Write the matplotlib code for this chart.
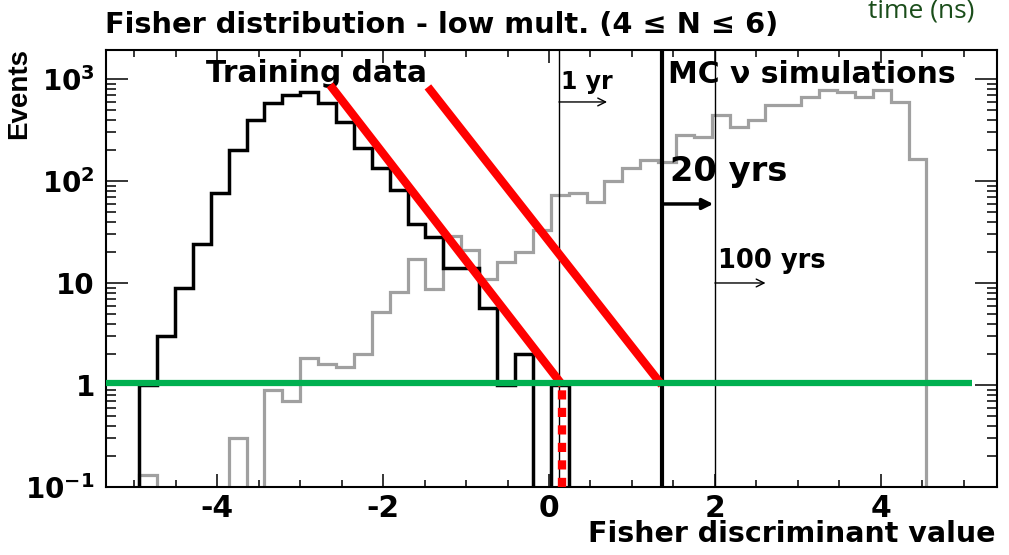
import numpy as np
import matplotlib
matplotlib.use("Agg")
import matplotlib.pyplot as plt
from matplotlib.ticker import MultipleLocator, LogLocator, FixedLocator, NullFormatter

plt.rcParams['font.family'] = ['DejaVu Sans']
plt.rcParams['font.weight'] = 'bold'
plt.rcParams['axes.unicode_minus'] = False
plt.rcParams['mathtext.fontset'] = 'custom'
plt.rcParams['mathtext.rm'] = 'DejaVu Sans:bold'
plt.rcParams['mathtext.it'] = 'DejaVu Sans:bold'
plt.rcParams['mathtext.bf'] = 'DejaVu Sans:bold'

# histogram binning (44 bins, same for both histograms)
x_first_edge = -4.94
x_last_edge = 4.55
n_bins = 44

# training data (black), events per bin; 0 = empty bin
training = [1, 3, 9, 24, 76, 200, 395, 580, 700, 750, 580, 378, 210, 134,
            81, 38, 28, 14, 14, 5.7, 1, 2, 0, 1,
            0, 0, 0, 0, 0, 0, 0, 0, 0, 0, 0, 0, 0, 0, 0, 0, 0, 0, 0, 0]

# MC neutrino simulations (grey)
mc_nu = [0.13, 0, 0, 0, 0, 0.3, 0, 0.9, 0.7, 1.85, 1.6, 1.5, 2.0, 5.2,
         8.1, 17, 8.8, 29, 21, 11, 16, 20, 33, 73, 77, 62, 101, 134,
         162, 155, 282, 268, 440, 342, 393, 560, 560, 660, 780, 750, 660,
         780, 590, 165]

# cut positions (Fisher value) for the exposure times
cut_1yr = 0.12
cut_20yr = 1.36
cut_100yr = 2.0
cut_data = 0.16

# red extrapolation lines: (x_start, x_end), (y_start, y_end)
red_line_1 = ([-2.64, 0.16], [873, 1.0])
red_line_2 = ([-1.46, 1.36], [836, 1.0])

y_ticks = [0.1, 1, 10, 100, 1000]
y_ticklabels = [r'$10^{-1}$', '1', '10', r'$10^{2}$', r'$10^{3}$']

fig = plt.figure(figsize=(10.09, 5.55), dpi=100)
ax = fig.add_axes([106 / 1009, 68 / 555, 891 / 1009, 437 / 555])

edges = np.linspace(x_first_edge, x_last_edge, n_bins + 1)
tiny = 1e-3
ax.stairs(np.where(np.array(mc_nu) > 0, mc_nu, tiny), edges, baseline=tiny,
          color='#a0a0a0', lw=2.3)
ax.stairs(np.where(np.array(training) > 0, training, tiny), edges, baseline=tiny,
          color='black', lw=2.5)

# cut lines
ax.axvline(cut_1yr, color='black', lw=1.0)
ax.axvline(cut_100yr, color='black', lw=1.0)
ax.axvline(cut_20yr, color='black', lw=3.0)

# red lines
ax.plot(*red_line_1, color='red', lw=6, solid_capstyle='butt', zorder=5)
ax.plot(*red_line_2, color='red', lw=6, solid_capstyle='butt', zorder=5)
ax.plot([cut_data, cut_data], [0.1, 1.0], color='red', lw=6,
        linestyle=(0, (1.1, 1.0)), zorder=5)

# green line at 1 event
ax.plot([-5.34, 5.1], [1.05, 1.05], color='#00b050', lw=4.5, zorder=6,
        solid_capstyle='butt')

# arrows
ax.annotate('', xy=(0.70, 595), xytext=(cut_1yr, 595),
            arrowprops=dict(arrowstyle='->', lw=1.0, color='black',
                            shrinkA=0, shrinkB=0, mutation_scale=14))
ax.annotate('', xy=(1.98, 59.5), xytext=(cut_20yr, 59.5),
            arrowprops=dict(arrowstyle='-|>', lw=2.5, color='black',
                            shrinkA=0, shrinkB=0, mutation_scale=16))
ax.annotate('', xy=(2.61, 10), xytext=(cut_100yr, 10),
            arrowprops=dict(arrowstyle='->', lw=1.0, color='black',
                            shrinkA=0, shrinkB=0, mutation_scale=14))

ax.text(0.145, 796, '1 yr', fontsize=17, va='baseline', ha='left')
ax.text(1.46, 100, '20 yrs', fontsize=24.3, va='baseline', ha='left')
ax.text(2.04, 14, '100 yrs', fontsize=18.5, va='baseline', ha='left')
ax.text(-2.80, 935, 'Training data', fontsize=21.3, va='baseline', ha='center')
ax.text(1.43, 912, 'MC ν simulations', fontsize=21.5, va='baseline', ha='left')

ax.set_xlim(-5.34, 5.40)
ax.set_yscale('log')
ax.set_ylim(0.1, 1923)

ax.xaxis.set_major_locator(MultipleLocator(2))
ax.xaxis.set_minor_locator(MultipleLocator(0.5))
ax.yaxis.set_major_locator(FixedLocator(y_ticks))
ax.yaxis.set_minor_locator(LogLocator(base=10, subs=np.arange(2, 10)))
ax.yaxis.set_minor_formatter(NullFormatter())
ax.set_yticks(y_ticks)
ax.set_yticklabels(y_ticklabels)

ax.tick_params(which='both', direction='in', top=True, right=True, width=1.1)
ax.tick_params(axis='x', which='major', length=9.5, labelsize=21.4, pad=5)
ax.tick_params(axis='x', which='minor', length=5)
ax.tick_params(axis='y', which='major', length=16, labelsize=20, pad=8)
ax.tick_params(axis='y', which='minor', length=7)
for sp in ax.spines.values():
    sp.set_linewidth(1.5)

fig.text(105 / 1009, 1 - 33 / 555, 'Fisher distribution - low mult. (4 ≤ N ≤ 6)',
         fontsize=20.8, ha='left', va='baseline')
fig.text(995 / 1009, 1 - 542 / 555, 'Fisher discriminant value',
         fontsize=20.5, ha='right', va='baseline')
fig.text(19 / 1009, 1 - 48 / 555, 'Events', fontsize=20, rotation=90,
         ha='center', va='top', family=['Liberation Sans', 'DejaVu Sans'])
fig.text(868 / 1009, 1 - 18 / 555, 'time (ns)', fontsize=19, ha='left',
         va='baseline', color='#1a4d1a', fontweight='normal',
         family=['Open Sans', 'DejaVu Sans'])

fig.savefig('out.png', dpi=100)
